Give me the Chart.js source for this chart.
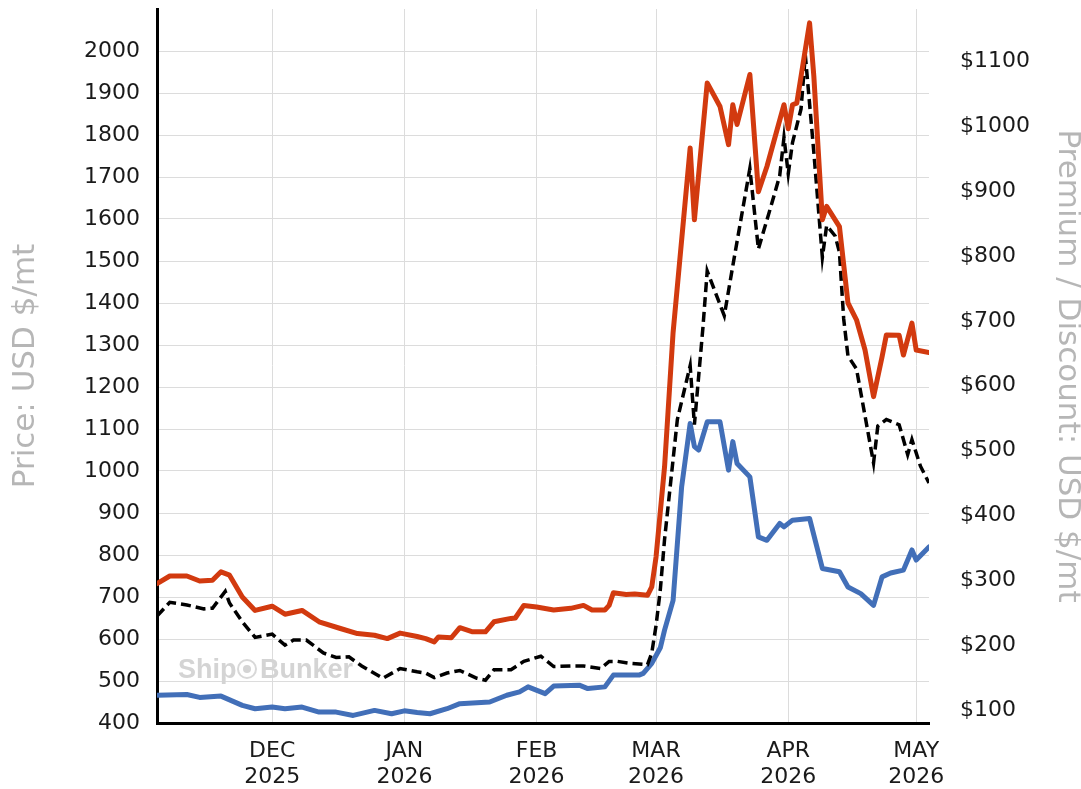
<!DOCTYPE html>
<html>
<head>
<meta charset="utf-8">
<script src="https://cdn.jsdelivr.net/npm/chart.js@4.4.1/dist/chart.umd.min.js"></script>
<style>
  html, body { margin: 0; padding: 0; background: #fff; }
  canvas { display: block; }
</style>
</head>
<body>
<canvas id="chart" width="1081" height="789"></canvas>
<script>
// x range and month ticks
const xStart = '2025-11-04';
const xEnd = '2026-05-04';
const monthTicks = ['2025-12-01', '2026-01-01', '2026-02-01', '2026-03-01', '2026-04-01', '2026-05-01'];
const monthLabels = [['DEC', '2025'], ['JAN', '2026'], ['FEB', '2026'], ['MAR', '2026'], ['APR', '2026'], ['MAY', '2026']];

const priceTicks = [400, 500, 600, 700, 800, 900, 1000, 1100, 1200, 1300, 1400, 1500, 1600, 1700, 1800, 1900, 2000];
const spreadTicks = [100, 200, 300, 400, 500, 600, 700, 800, 900, 1000, 1100];

// red price line (left axis)
const redDates = [
  '2025-11-04', '2025-11-07', '2025-11-11', '2025-11-14', '2025-11-17', '2025-11-19', '2025-11-21', '2025-11-24', '2025-11-27',
  '2025-12-01', '2025-12-04', '2025-12-08', '2025-12-12', '2025-12-17', '2025-12-21', '2025-12-25', '2025-12-28', '2025-12-31',
  '2026-01-04', '2026-01-06', '2026-01-08', '2026-01-09', '2026-01-12', '2026-01-14', '2026-01-17', '2026-01-20', '2026-01-22', '2026-01-26', '2026-01-27', '2026-01-29',
  '2026-02-01', '2026-02-05', '2026-02-09', '2026-02-12', '2026-02-14', '2026-02-17', '2026-02-18', '2026-02-19', '2026-02-22', '2026-02-24', '2026-02-27', '2026-02-28',
  '2026-03-01', '2026-03-03', '2026-03-05', '2026-03-09', '2026-03-10', '2026-03-13', '2026-03-16', '2026-03-18', '2026-03-19', '2026-03-20', '2026-03-23', '2026-03-25', '2026-03-27', '2026-03-31',
  '2026-04-01', '2026-04-02', '2026-04-03', '2026-04-06', '2026-04-07', '2026-04-09', '2026-04-10', '2026-04-13', '2026-04-15', '2026-04-17', '2026-04-19', '2026-04-21', '2026-04-23', '2026-04-24', '2026-04-27', '2026-04-28', '2026-04-30',
  '2026-05-01', '2026-05-04'
];
const redPrices = [
  732, 750, 750, 738, 740, 760, 752, 700, 668,
  678, 659, 668, 641, 625, 613, 609, 601, 614,
  606, 601, 593, 605, 603, 627, 617, 617, 641, 649, 650, 680,
  676, 669, 673, 680, 669, 669, 680, 710, 706, 707, 704, 724,
  795, 1010, 1330, 1769, 1598, 1924, 1868, 1777, 1872, 1825, 1944, 1665, 1725, 1872,
  1815, 1872, 1876, 2067, 1940, 1598, 1630, 1582, 1400, 1360, 1288, 1177, 1272, 1324, 1323, 1276, 1352,
  1288, 1282
];

// blue price line (left axis)
const blueDates = [
  '2025-11-04', '2025-11-11', '2025-11-14', '2025-11-19', '2025-11-24', '2025-11-27',
  '2025-12-01', '2025-12-04', '2025-12-08', '2025-12-12', '2025-12-16', '2025-12-20', '2025-12-25', '2025-12-29',
  '2026-01-01', '2026-01-04', '2026-01-07', '2026-01-11', '2026-01-14', '2026-01-21', '2026-01-25', '2026-01-28', '2026-01-30',
  '2026-02-03', '2026-02-05', '2026-02-11', '2026-02-13', '2026-02-17', '2026-02-19', '2026-02-25', '2026-02-26', '2026-02-28',
  '2026-03-02', '2026-03-03', '2026-03-05', '2026-03-07', '2026-03-09', '2026-03-10', '2026-03-11', '2026-03-13', '2026-03-16', '2026-03-18', '2026-03-19', '2026-03-20', '2026-03-23', '2026-03-25', '2026-03-27', '2026-03-30', '2026-03-31',
  '2026-04-02', '2026-04-06', '2026-04-09', '2026-04-13', '2026-04-15', '2026-04-18', '2026-04-21', '2026-04-23', '2026-04-25', '2026-04-28', '2026-04-30',
  '2026-05-01', '2026-05-04'
];
const bluePrices = [
  466, 468, 461, 464, 442, 434,
  438, 434, 438, 426, 426, 418, 430, 422,
  429, 425, 422, 434, 446, 450, 466, 474, 486,
  470, 488, 490, 482, 486, 514, 514, 518, 542,
  579, 621, 692, 962, 1113, 1058, 1050, 1117, 1117, 1002, 1070, 1018, 986, 843, 835, 875, 867,
  883, 887, 768, 760, 724, 708, 680, 748, 757, 764, 812,
  788, 819
];

// black dashed premium / discount (right axis)
const spreadDates = [
  '2025-11-04', '2025-11-07', '2025-11-11', '2025-11-15', '2025-11-17', '2025-11-20', '2025-11-21', '2025-11-24', '2025-11-27',
  '2025-12-01', '2025-12-04', '2025-12-06', '2025-12-09', '2025-12-13', '2025-12-16', '2025-12-19', '2025-12-22', '2025-12-27', '2025-12-31',
  '2026-01-04', '2026-01-06', '2026-01-08', '2026-01-11', '2026-01-14', '2026-01-18', '2026-01-20', '2026-01-22', '2026-01-26', '2026-01-29',
  '2026-02-02', '2026-02-05', '2026-02-09', '2026-02-12', '2026-02-16', '2026-02-18', '2026-02-20', '2026-02-23', '2026-02-27', '2026-02-28',
  '2026-03-01', '2026-03-02', '2026-03-03', '2026-03-06', '2026-03-09', '2026-03-10', '2026-03-12', '2026-03-13', '2026-03-17', '2026-03-19', '2026-03-23', '2026-03-25', '2026-03-28', '2026-03-30', '2026-03-31',
  '2026-04-01', '2026-04-02', '2026-04-04', '2026-04-05', '2026-04-07', '2026-04-09', '2026-04-10', '2026-04-12', '2026-04-13', '2026-04-14', '2026-04-15', '2026-04-17', '2026-04-21', '2026-04-22', '2026-04-24', '2026-04-27', '2026-04-29', '2026-04-30',
  '2026-05-02', '2026-05-04'
];
const spreadValues = [
  245, 266, 262, 256, 257, 283, 265, 236, 212,
  217, 200, 208, 208, 188, 181, 182, 168, 149, 164,
  159, 157, 150, 157, 161, 149, 146, 162, 162, 175,
  183, 167, 168, 168, 164, 175, 175, 172, 170, 188,
  230, 285, 363, 548, 631, 540, 690, 777, 708, 785, 935, 811, 878, 924, 983,
  927, 975, 1027, 1110, 960, 798, 847, 831, 806, 703, 646, 626, 481, 538, 548, 540, 494, 517,
  476, 450
];

const day0 = Date.parse('2025-11-01');
const toDay = d => (Date.parse(d) - day0) / 86400000;
const toPoints = (dates, vals) => dates.map((d, i) => ({ x: toDay(d), y: vals[i] }));

const tickFont = { family: 'DejaVu Sans', size: 22 };

// chart area is fixed by the axis boxes, so drop Chart.js's label overhang padding
const noPad = s => { s.paddingTop = 0; s.paddingBottom = 0; s.paddingLeft = 0; s.paddingRight = 0; };

const watermark = {
  id: 'watermark',
  beforeDatasetsDraw(chart) {
    const ctx = chart.ctx;
    ctx.save();
    ctx.fillStyle = '#d4d4d4';
    ctx.strokeStyle = '#d8d8d8';
    ctx.font = 'bold 27px "Liberation Sans", Arial, sans-serif';
    ctx.textBaseline = 'alphabetic';
    ctx.fillText('Ship', 178, 678);
    ctx.fillText('Bunker', 260, 678);
    ctx.lineWidth = 2;
    ctx.beginPath();
    ctx.arc(247, 669, 9, 0, Math.PI * 2);
    ctx.stroke();
    ctx.beginPath();
    ctx.arc(247, 669, 4, 0, Math.PI * 2);
    ctx.fill();
    ctx.restore();
  }
};

new Chart(document.getElementById('chart'), {
  type: 'line',
  data: {
    datasets: [
      {
        label: 'Red',
        data: toPoints(redDates, redPrices),
        yAxisID: 'y',
        borderColor: '#d23a0f',
        borderWidth: 5,
        borderJoinStyle: 'round',
        borderCapStyle: 'round',
        pointRadius: 0,
        tension: 0
      },
      {
        label: 'Premium / Discount',
        data: toPoints(spreadDates, spreadValues),
        yAxisID: 'y1',
        borderColor: '#000',
        borderWidth: 3.5,
        borderDash: [10, 5],
        pointRadius: 0,
        tension: 0
      },
      {
        label: 'Blue',
        data: toPoints(blueDates, bluePrices),
        yAxisID: 'y',
        borderColor: '#426fb8',
        borderWidth: 5,
        borderJoinStyle: 'round',
        borderCapStyle: 'round',
        pointRadius: 0,
        tension: 0
      }
    ]
  },
  options: {
    responsive: false,
    animation: false,
    devicePixelRatio: 1,
    layout: { padding: { top: 9, left: 0, right: 0, bottom: 0 } },
    plugins: { legend: { display: false }, tooltip: { enabled: false } },
    scales: {
      x: {
        type: 'linear',
        min: toDay(xStart),
        max: toDay(xEnd),
        afterBuildTicks: s => { s.ticks = monthTicks.map(d => ({ value: toDay(d) })); },
        afterFit: s => { s.height = 66; noPad(s); },
        ticks: {
          autoSkip: false,
          maxRotation: 0,
          padding: 15,
          color: '#1a1a1a',
          font: { family: 'DejaVu Sans', size: 22, lineHeight: 26 / 22 },
          callback: (v, i) => monthLabels[i]
        },
        grid: { color: '#dcdcdc', lineWidth: 1, drawTicks: false },
        border: { color: '#000', width: 3 }
      },
      y: {
        position: 'left',
        min: 400,
        max: 2100,
        afterBuildTicks: s => { s.ticks = priceTicks.map(v => ({ value: v })); },
        afterFit: s => { s.width = 157; noPad(s); },
        ticks: { padding: 17, color: '#1a1a1a', font: tickFont, callback: v => String(v) },
        grid: { color: '#dcdcdc', lineWidth: 1, drawTicks: false },
        border: { color: '#000', width: 3 },
        title: {
          display: true,
          text: 'Price: USD $/mt',
          color: '#b6b6b6',
          font: { family: 'DejaVu Sans', size: 31, lineHeight: 0.9 },
          padding: { top: 12, bottom: 0 }
        }
      },
      y1: {
        position: 'right',
        min: 80,
        max: 1181,
        afterBuildTicks: s => { s.ticks = spreadTicks.map(v => ({ value: v })); },
        afterFit: s => { s.width = 152; noPad(s); },
        ticks: { padding: 31, color: '#1a1a1a', font: tickFont, callback: v => '$' + v },
        grid: { display: false, drawTicks: false },
        border: { display: false },
        title: {
          display: true,
          text: 'Premium / Discount: USD $/mt',
          color: '#b6b6b6',
          font: { family: 'DejaVu Sans', size: 31, lineHeight: 0.9 },
          padding: { top: 0, bottom: 0 }
        }
      }
    }
  },
  plugins: [watermark]
});
</script>
</body>
</html>
